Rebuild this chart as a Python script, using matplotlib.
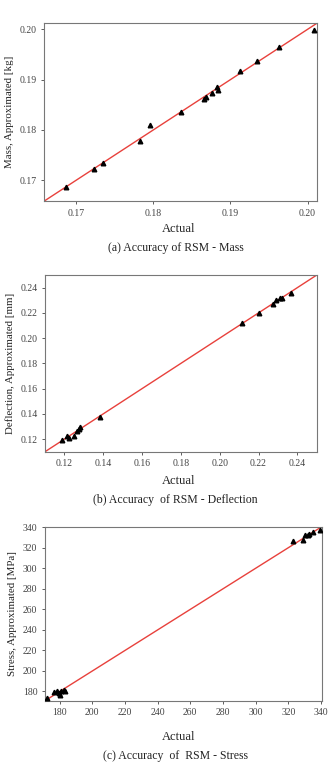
import numpy as np
import matplotlib.pyplot as plt
from matplotlib.ticker import FormatStrFormatter

# Data
mass_actual = [0.1686, 0.1723, 0.1734, 0.1783, 0.1795, 0.1836, 0.1865, 0.1868,
               0.1876, 0.1883, 0.1884, 0.1913, 0.1934, 0.1963, 0.2009]
mass_approx = [0.1687, 0.1722, 0.1734, 0.1777, 0.1809, 0.1836, 0.1861, 0.1865,
               0.1873, 0.1885, 0.1880, 0.1918, 0.1937, 0.1964, 0.1998]

defl_actual = [0.1186, 0.1212, 0.1222, 0.1248, 0.1265, 0.1274, 0.1282, 0.1385,
               0.2114, 0.2203, 0.2272, 0.2290, 0.2311, 0.2323, 0.2367]
defl_approx = [0.1192, 0.1221, 0.1210, 0.1226, 0.1268, 0.1284, 0.1297, 0.1377,
               0.2118, 0.2202, 0.2273, 0.2305, 0.2321, 0.2321, 0.2358]

stress_actual = [172.2, 176.7, 178.4, 179.6, 180.4, 180.8, 182.5, 183.1,
                 322.6, 328.8, 330.4, 331.9, 332.8, 334.9, 339.6]
stress_approx = [173.5, 179.4, 180.0, 178.4, 176.8, 180.0, 181.6, 180.0,
                 326.1, 327.1, 332.6, 332.6, 333.5, 335.8, 337.7]

plt.rcParams['font.family'] = ['Liberation Serif', 'DejaVu Serif']

fig = plt.figure(figsize=(3.31, 7.65), dpi=100)

panels = [
    dict(x=mass_actual, y=mass_approx, lim=(0.1658, 0.2012),
         ticks=[0.17, 0.18, 0.19, 0.20], fmt='%.2f',
         ylabel='Mass, Approximated [kg]',
         caption='(a) Accuracy of RSM - Mass',
         rect=[0.133, 0.737, 0.824, 0.2325], xl=0.700, cap=0.676),
    dict(x=defl_actual, y=defl_approx, lim=(0.11, 0.25),
         ticks=[0.12, 0.14, 0.16, 0.18, 0.20, 0.22, 0.24], fmt='%.2f',
         ylabel='Deflection, Approximated [mm]',
         caption='(b) Accuracy  of RSM - Deflection',
         rect=[0.136, 0.4095, 0.821, 0.231], xl=0.371, cap=0.346),
    dict(x=stress_actual, y=stress_approx, lim=(171, 340.5),
         ticks=list(range(180, 341, 20)), fmt='%d',
         ylabel='Stress, Approximated [MPa]',
         caption='(c) Accuracy  of  RSM - Stress',
         rect=[0.136, 0.084, 0.836, 0.2275], xl=0.037, cap=0.012),
]

for p in panels:
    ax = fig.add_axes(p['rect'])
    lo, hi = p['lim']
    ax.plot([lo, hi], [lo, hi], color='#e8413c', lw=1.0, zorder=2)
    ax.plot(p['x'], p['y'], '^', color='black', ms=3.3, zorder=3)
    ax.set_xlim(lo, hi)
    ax.set_ylim(lo, hi)
    ax.set_xticks(p['ticks'])
    ax.set_yticks(p['ticks'])
    ax.xaxis.set_major_formatter(FormatStrFormatter(p['fmt']))
    ax.yaxis.set_major_formatter(FormatStrFormatter(p['fmt']))
    ax.tick_params(labelsize=7, colors='#444444', length=2, width=0.6)
    for s in ax.spines.values():
        s.set_color('#777777')
        s.set_linewidth(0.8)
    ax.set_ylabel(p['ylabel'], fontsize=7.8, color='#222222', labelpad=4)
    fig.text(0.54, p['xl'], 'Actual', ha='center', va='center',
             fontsize=9, color='#222222')
    fig.text(0.53, p['cap'], p['caption'], ha='center', va='center',
             fontsize=8.5, color='#222222')

fig.savefig('out.png', dpi=100)
